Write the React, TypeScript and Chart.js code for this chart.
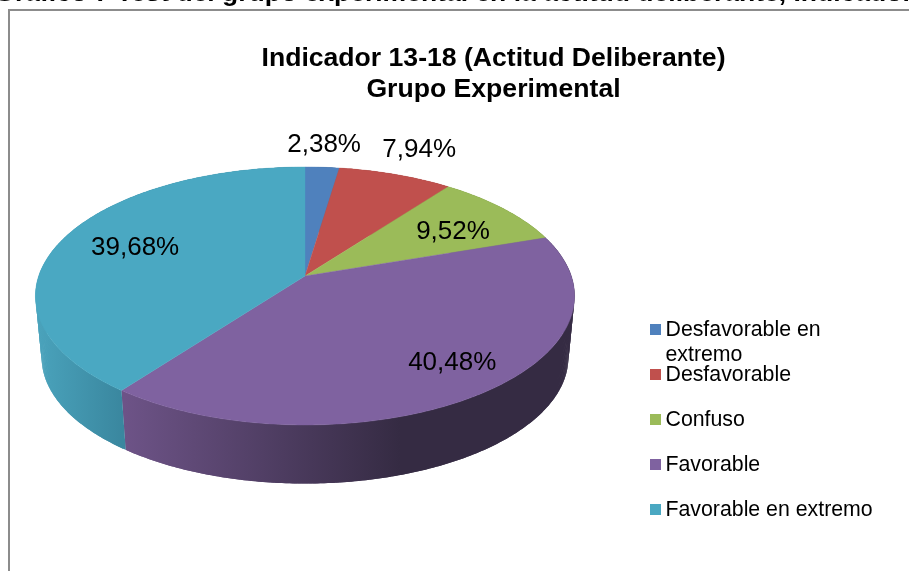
import React, { useEffect, useRef } from "react";
import { Chart, registerables } from "chart.js";

Chart.register(...registerables);

const categories = ["Desfavorable en extremo", "Desfavorable", "Confuso", "Favorable", "Favorable en extremo"];
const legendLines = [["Desfavorable en", "extremo"], ["Desfavorable"], ["Confuso"], ["Favorable"], ["Favorable en extremo"]];
const values = [2.38, 7.94, 9.52, 40.48, 39.68];
const colors = ["#4f81bd", "#c0504d", "#9bbb59", "#7f62a0", "#4aa8c2"];
const titleLines = ["Indicador 13-18 (Actitud Deliberante)", "Grupo Experimental"];
const captionLead = "Gráfico 7 Test del grupo ex";
const captionRest = "perimental en la actitud deliberante, Indicador";

// label placement on the unit disc: radius factor and angle shift (deg) per slice
const labelRadius = [1.268, 1.31, 0.705, 0.79, 0.707];
const labelShift = [-0.4, 0, 2.4, -3.6, 1.9];

// side wall shading per slice: [x0, colour0, x1, colour1]
const wallShade: [number, string, number, string][] = [
  [300, "#3f6797", 340, "#3f6797"],
  [340, "#9a403e", 450, "#9a403e"],
  [450, "#7c9647", 545, "#7c9647"],
  [125, "#6d5387", 400, "#352b43"],
  [36, "#4aa3bc", 122, "#3a879f"],
];

// perspective projection of the pie disc
const CX = 305, CY = 276, A = 266.3, B = 125.9, K = 0.155;
const WALL_SCALE = 0.977, WALL_DY = 62;

function project(r: number, angle: number) {
  const u = r * Math.cos(angle), v = r * Math.sin(angle);
  const w = 1 - K * v;
  return { x: (A * u) / w, y: (B * v) / w };
}
const top = (r: number, a: number) => {
  const p = project(r, a);
  return { x: CX + p.x, y: CY + p.y };
};
const bottom = (a: number) => {
  const p = project(1, a);
  return { x: CX + WALL_SCALE * p.x, y: CY + WALL_DY + WALL_SCALE * p.y };
};

const pie3d = {
  id: "pie3d",
  beforeDraw(chart: any) {
    const ctx = chart.ctx as CanvasRenderingContext2D;
    ctx.save();
    ctx.fillStyle = "#fff";
    ctx.fillRect(0, 0, 909, 571);
    ctx.fillStyle = "#8c8c8c";
    ctx.fillRect(8, 9, 901, 2);
    ctx.fillRect(8, 9, 2, 562);
    ctx.fillStyle = "#000";
    ctx.font = "bold 26.5px 'Liberation Sans'";
    ctx.textAlign = "left";
    ctx.textBaseline = "alphabetic";
    ctx.fillText(captionLead + captionRest, 334 - ctx.measureText(captionLead).width, 0.5);
    ctx.restore();
  },
  beforeDatasetsDraw(chart: any) {
    const ctx = chart.ctx as CanvasRenderingContext2D;
    const arcs = chart.getDatasetMeta(0).data;
    ctx.save();
    // walls: overlapping quads between the top rim and the bottom rim
    arcs.forEach((arc: any, i: number) => {
      const s = arc.startAngle, e = arc.endAngle;
      const n = Math.max(8, Math.ceil((e - s) * 80));
      const sh = wallShade[i];
      const g = ctx.createLinearGradient(sh[0], 0, sh[2], 0);
      g.addColorStop(0, sh[1]);
      g.addColorStop(1, sh[3]);
      ctx.fillStyle = g;
      for (let k = 0; k < n; k++) {
        const a0 = s + ((e - s) * k) / n;
        const a1 = s + ((e - s) * Math.min(n, k + 2)) / n;
        const p0 = top(1, a0), pm = top(1, (a0 + a1) / 2), p1 = top(1, a1);
        const q1 = bottom(a1), qm = bottom((a0 + a1) / 2), q0 = bottom(a0);
        ctx.beginPath();
        ctx.moveTo(p0.x, p0.y);
        ctx.lineTo(pm.x, pm.y);
        ctx.lineTo(p1.x, p1.y);
        ctx.lineTo(q1.x, q1.y);
        ctx.lineTo(qm.x, qm.y);
        ctx.lineTo(q0.x, q0.y);
        ctx.closePath();
        ctx.fill();
      }
    });
    // top faces
    arcs.forEach((arc: any, i: number) => {
      const s = arc.startAngle, e = arc.endAngle;
      const n = Math.max(8, Math.ceil((e - s) * 80));
      ctx.beginPath();
      ctx.moveTo(CX, CY);
      for (let k = 0; k <= n; k++) {
        const p = top(1, s + ((e - s) * k) / n);
        ctx.lineTo(p.x, p.y);
      }
      ctx.closePath();
      ctx.fillStyle = colors[i];
      ctx.strokeStyle = colors[i];
      ctx.lineWidth = 0.4;
      ctx.fill();
      ctx.stroke();
    });
    ctx.restore();
    return false;
  },
  afterDraw(chart: any) {
    const ctx = chart.ctx as CanvasRenderingContext2D;
    const arcs = chart.getDatasetMeta(0).data;
    ctx.save();
    ctx.fillStyle = "#000";
    ctx.textAlign = "center";
    ctx.textBaseline = "middle";
    ctx.font = "26px 'Liberation Sans'";
    arcs.forEach((arc: any, i: number) => {
      const mid = (arc.startAngle + arc.endAngle) / 2 + (labelShift[i] * Math.PI) / 180;
      const p = top(labelRadius[i], mid);
      ctx.fillText(values[i].toFixed(2).replace(".", ",") + "%", p.x, p.y + 2);
    });
    // legend
    ctx.textAlign = "left";
    ctx.font = "21.3px 'Liberation Sans'";
    legendLines.forEach((lines, i) => {
      const y = 329.5 + i * 45;
      ctx.fillStyle = colors[i];
      ctx.fillRect(650, y - 5.5, 11, 11);
      ctx.fillStyle = "#000";
      lines.forEach((t, j) => ctx.fillText(t, 665.5, y + 1 + j * 25));
    });
    ctx.restore();
  },
};

export default function App() {
  const ref = useRef<HTMLCanvasElement>(null);
  useEffect(() => {
    const chart = new Chart(ref.current!, {
      type: "pie",
      data: { labels: categories, datasets: [{ data: values, backgroundColor: colors, borderWidth: 0 }] },
      options: {
        responsive: false,
        animation: false,
        layout: { padding: { left: 78, top: 43 } },
        plugins: {
          legend: { display: false },
          tooltip: { enabled: false },
          title: {
            display: true,
            text: titleLines,
            color: "#000",
            font: { family: "'Liberation Sans'", size: 26.6, weight: "bold", lineHeight: 1.17 },
            padding: { top: 0, bottom: 0 },
          },
        },
      },
      plugins: [pie3d],
    } as any);
    return () => chart.destroy();
  }, []);
  return (
    <div style={{ position: "absolute", left: 0, top: 0, width: 909, height: 571, overflow: "hidden" }}>
      <canvas ref={ref} width={909} height={571} style={{ display: "block" }} />
    </div>
  );
}
